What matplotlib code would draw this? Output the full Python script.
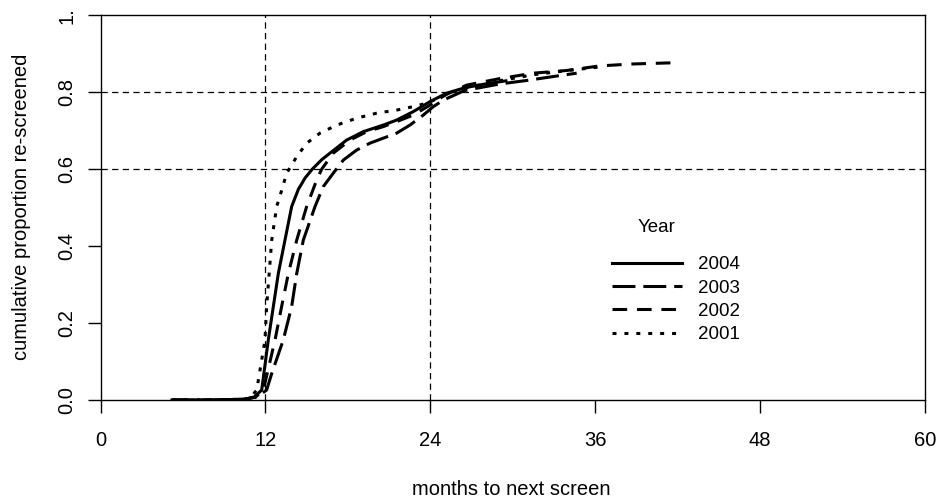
import matplotlib
matplotlib.use("Agg")
import matplotlib.pyplot as plt

plt.rcParams['font.family'] = ['Liberation Sans', 'DejaVu Sans']

# cumulative proportion re-screened
x_2004 = [5.2, 8.0, 10.5, 11.2, 11.73, 12.21, 12.94, 13.91, 14.4, 14.9, 15.4, 16.1, 16.70,
          17.91, 19.13, 20.58, 21.55, 22.76, 23.98, 25.19, 26.5, 28.0, 29.5]
y_2004 = [0, 0, 0.002, 0.008, 0.026, 0.156, 0.329, 0.503, 0.548, 0.578, 0.600, 0.625, 0.642,
          0.676, 0.698, 0.715, 0.728, 0.750, 0.776, 0.798, 0.812, 0.822, 0.830]

x_2003 = [5.2, 8.0, 10.5, 11.4, 12.09, 12.46, 13.30, 13.91, 14.28, 14.76, 15.61, 16.21,
          16.94, 17.67, 18.64, 19.61, 20.58, 21.55, 22.52, 23.49, 24.22, 24.95, 26.5,
          29.07, 31.01, 32.71, 34.65]
y_2003 = [0, 0, 0.002, 0.008, 0.026, 0.069, 0.156, 0.243, 0.329, 0.416, 0.503, 0.555,
          0.590, 0.624, 0.650, 0.668, 0.681, 0.694, 0.715, 0.741, 0.763, 0.780, 0.805,
          0.822, 0.831, 0.840, 0.850]

x_2002 = [5.2, 8.0, 10.5, 11.3, 11.85, 12.70, 13.18, 13.67, 14.28, 15.00, 15.73, 16.09,
          16.94, 18.16, 19.37, 20.58, 21.55, 22.76, 23.98, 25.07, 26.65, 29.07, 31.5,
          33.92, 36.35, 38.77, 41.68]
y_2002 = [0, 0, 0.002, 0.008, 0.026, 0.156, 0.243, 0.329, 0.416, 0.503, 0.572, 0.600,
          0.642, 0.676, 0.698, 0.711, 0.724, 0.741, 0.767, 0.793, 0.819, 0.836, 0.850,
          0.857, 0.869, 0.874, 0.877]

x_2001 = [5.2, 8.0, 10.5, 11.0, 11.37, 11.97, 12.09, 12.46, 12.82, 13.19, 13.55, 14.28,
          15.01, 15.97, 17.19, 18.64, 20.10, 21.55, 22.76, 23.74, 24.6, 25.5, 27.0, 29.0,
          31.5, 34.0, 36.3]
y_2001 = [0, 0, 0.002, 0.01, 0.026, 0.156, 0.243, 0.416, 0.503, 0.546, 0.590, 0.633,
          0.668, 0.694, 0.715, 0.733, 0.746, 0.754, 0.763, 0.772, 0.785, 0.800, 0.815,
          0.830, 0.846, 0.857, 0.866]

x_ticks = [0, 12, 24, 36, 48, 60]
y_ticks = [0.0, 0.2, 0.4, 0.6, 0.8, 1.0]
y_ticklabels = ["0.0", "0.2", "0.4", "0.6", "0.8", "1."]
ref_x = [12, 24]
ref_y = [0.6, 0.8]

fig = plt.figure(figsize=(9.38, 4.98), dpi=100)
ax = fig.add_axes([100.5 / 938, 1 - 400 / 498, 824.5 / 938, 384.5 / 498])

lw = 2.2
ax.plot(x_2004, y_2004, color='black', lw=lw, label='2004')
ax.plot(x_2003, y_2003, color='black', lw=lw, dashes=(7.5, 2.6), label='2003')
ax.plot(x_2002, y_2002, color='black', lw=lw, dashes=(4.8, 3.2), label='2002')
ax.plot(x_2001, y_2001, color='black', lw=lw, dashes=(1.3, 2.6), label='2001')

for v in ref_x:
    ax.axvline(v, color='black', lw=0.9, dashes=(5, 3.5))
for h in ref_y:
    ax.axhline(h, color='black', lw=0.9, dashes=(5, 3.5))

ax.set_xlim(0, 60)
ax.set_ylim(0, 1)
ax.set_xticks(x_ticks)
ax.set_yticks(y_ticks)
ax.set_yticklabels(y_ticklabels, rotation=90, va='center')
ax.tick_params(axis='both', direction='out', length=9.5, width=1.0, labelsize=14.5)
ax.tick_params(axis='x', pad=13)
ax.tick_params(axis='y', pad=8)
for s in ax.spines.values():
    s.set_linewidth(1.0)

fig.text(511.7 / 938, 3 / 498, "months to next screen", ha='center', va='baseline', fontsize=14.5)
fig.text(22 / 938, 1 - 207 / 498, "cumulative proportion re-screened", rotation=90,
         ha='center', va='center', fontsize=14.5)

# legend title placed on its own, R leaves a larger gap under it
fig.text(657 / 938, 1 - 228 / 498, "Year", ha='center', va='center', fontsize=13.5)
ax.legend(loc='upper left', bbox_to_anchor=(0.60, 0.418),
          frameon=False, fontsize=13.5,
          handlelength=3.73, handletextpad=0.85, labelspacing=0.33)

fig.savefig("out.png", dpi=100)
